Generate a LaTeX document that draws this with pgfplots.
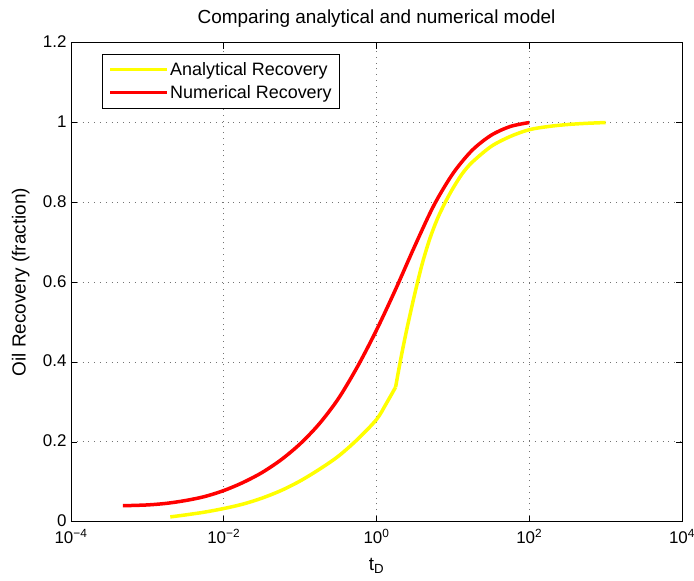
\documentclass[border=0pt]{standalone}
\usepackage{pgfplots}
\pgfplotsset{compat=1.18}
\usepackage{fontspec}
\setmainfont{Liberation Sans}
\pgfplotstableread{
t v
4.79e-4 0.040
1e-3 0.042
1.778e-3 0.046
3.162e-3 0.053
5.623e-3 0.063
1e-2 0.078
1.778e-2 0.098
3.162e-2 0.123
5.623e-2 0.155
0.1 0.195
0.1778 0.245
0.3162 0.308
0.5623 0.388
1 0.480
1.778 0.582
3.162 0.690
5.623 0.792
10 0.872
17.78 0.930
31.62 0.968
56.23 0.990
100 1.000
}\numtab
\pgfplotstableread{
t v
1.995e-3 0.012
3.162e-3 0.017
5.623e-3 0.024
1e-2 0.033
1.778e-2 0.044
3.162e-2 0.059
5.623e-2 0.078
0.1 0.102
0.1778 0.131
0.3162 0.164
0.5623 0.206
1 0.256
1.334 0.295
1.778 0.337
}\anatabA
\pgfplotstableread{
t v
1.778 0.337
2.089 0.410
2.512 0.485
3.162 0.570
3.981 0.647
5.012 0.710
6.310 0.760
7.943 0.800
10 0.835
13.18 0.871
17.78 0.900
31.62 0.940
56.23 0.965
100 0.982
177.8 0.990
316.2 0.995
562.3 0.998
1000 1.000
}\anatabB
\begin{document}
\begin{tikzpicture}
\path[use as bounding box] (-71bp,-59.3bp) rectangle (623bp,521.7bp);
\begin{axis}[
  at={(0,0)}, anchor=south west,
  scale only axis,
  width=611bp, height=479bp,
  xmode=log,
  xmin=1e-4, xmax=1e4,
  ymin=0, ymax=1.2,
  xtick={1e-4,1e-2,1,1e2,1e4},
  xticklabels={10\textsuperscript{−4},10\textsuperscript{−2},10\textsuperscript{0},10\textsuperscript{2},10\textsuperscript{4}},
  ytick={0,0.2,0.4,0.6,0.8,1,1.2},
  yticklabels={0,0.2,0.4,0.6,0.8,1,1.2},
  xminorticks=false,
  tick align=inside,
  major tick length=6bp,
  grid=major,
  major grid style={dash pattern=on 0.8bp off 5bp, black!55, line width=0.8bp},
  axis line style={line width=0.8bp},
  tick style={line width=0.6bp, black},
  ticklabel style={font=\fontsize{17}{20}\selectfont},
  xticklabel style={yshift=-4bp},
  yticklabel style={xshift=-1bp, yshift=1bp},
  title style={font=\fontsize{19}{22}\selectfont, at={(axis description cs:0.5,1)}, anchor=south, yshift=6bp},
  title={Comparing analytical and numerical model},
  xlabel={t\textsubscript{D}},
  ylabel={Oil Recovery (fraction)},
  xlabel style={font=\fontsize{19}{22}\selectfont, at={(axis description cs:0.5,-0.068)}, anchor=north},
  ylabel style={font=\fontsize{19}{22}\selectfont, at={(axis description cs:-0.062,0.5)}, anchor=south},
  legend style={at={(0.051,0.977)}, anchor=north west, draw=black, line width=0.8bp,
    font=\fontsize{18}{21}\selectfont, inner xsep=6bp, inner ysep=6bp,
    legend cell align=left, row sep=5bp},
  legend image code/.code={\draw[#1, line width=3bp] (0cm,0cm) -- (2cm,0cm);},
]
\addplot[draw={rgb,255:red,255;green,255;blue,0}, line width=3.5bp, smooth, tension=0.5] table[x=t,y=v] {\anatabA};
\addlegendentry{Analytical Recovery}
\addplot[draw={rgb,255:red,255;green,0;blue,0}, line width=3.5bp, smooth, tension=0.5] table[x=t,y=v] {\numtab};
\addlegendentry{Numerical Recovery}
\addplot[forget plot, draw={rgb,255:red,255;green,255;blue,0}, line width=3.5bp, smooth, tension=0.5] table[x=t,y=v] {\anatabB};
\end{axis}
\end{tikzpicture}
\end{document}
